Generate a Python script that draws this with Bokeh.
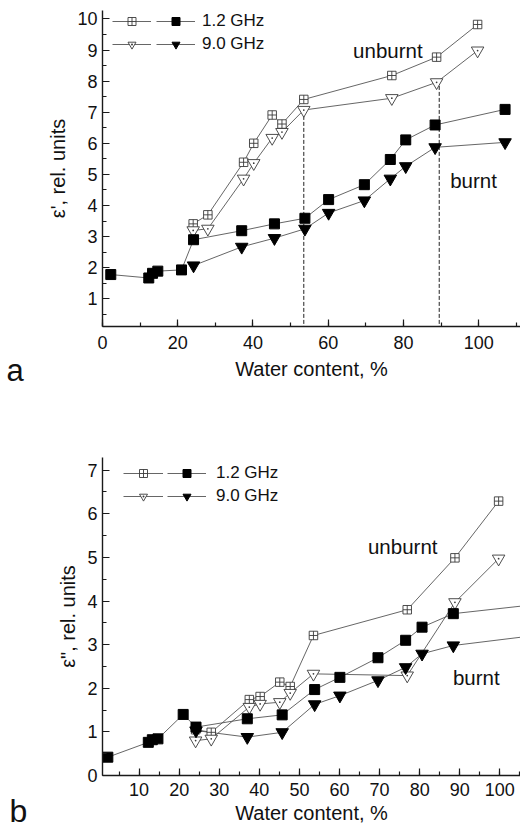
from bokeh.plotting import figure
from bokeh.layouts import column
from bokeh.models import Range1d, SingleIntervalTicker, Legend, LegendItem, Label
from bokeh.embed import file_html
from bokeh.resources import INLINE

# ---------------- data ----------------
# water content, % (burnt samples measured at 1.2 GHz; 9.0 GHz starts at 24 %)
water_burnt_12 = [2.2, 12.3, 13.3, 14.7, 21.0, 24.2, 37.0, 45.7, 53.8, 60.1, 69.6, 76.5, 80.6, 88.4, 107.0]
water_burnt_9 = [24.2, 37.0, 45.7, 53.8, 60.1, 69.6, 76.5, 80.6, 88.4, 107.0]
water_unburnt = [24.1, 28.0, 37.5, 40.2, 45.1, 47.7, 53.5, 76.9, 88.8, 99.7]

# (a) real part eps'
eps1_burnt_12 = [1.78, 1.67, 1.82, 1.89, 1.93, 2.90, 3.19, 3.41, 3.59, 4.19, 4.67, 5.48, 6.11, 6.59, 7.09]
eps1_burnt_9 = [2.07, 2.67, 2.95, 3.25, 3.76, 4.16, 4.86, 5.26, 5.87, 6.03]
eps1_unburnt_12 = [3.41, 3.70, 5.39, 6.00, 6.91, 6.62, 7.41, 8.18, 8.77, 9.82]
eps1_unburnt_9 = [3.20, 3.25, 4.86, 5.36, 6.17, 6.36, 7.07, 7.45, 7.96, 8.98]

# (b) imaginary part eps''
eps2_burnt_12 = [0.42, 0.76, 0.82, 0.84, 1.40, 1.11, 1.30, 1.39, 1.97, 2.25, 2.70, 3.10, 3.40, 3.71, 3.90]
eps2_burnt_9 = [1.03, 0.88, 0.99, 1.63, 1.83, 2.18, 2.48, 2.79, 2.98, 3.19]
eps2_unburnt_12 = [1.05, 0.99, 1.74, 1.81, 2.14, 2.04, 3.21, 3.80, 4.99, 6.29]
eps2_unburnt_9 = [0.80, 0.84, 1.57, 1.64, 1.68, 1.89, 2.33, 2.29, 3.97, 4.97]

# dashed markers in (a)
dashed_x = [53.5, 89.5]
dashed_top = [7.07, 7.96]

legend_labels = ["1.2 GHz", "9.0 GHz"]

FONT = "Liberation Sans"
LINE_C = "#555555"
OPEN_C = "#3a3a3a"
TXT_C = "#111111"


def style_axes(p, xtick, ytick, lab_stand_x, title_stand_x):
    p.grid.visible = False
    p.outline_line_color = None
    p.xaxis.ticker = SingleIntervalTicker(interval=xtick, num_minor_ticks=2)
    p.yaxis.ticker = SingleIntervalTicker(interval=ytick, num_minor_ticks=2)
    for ax in (p.xaxis[0], p.yaxis[0]):
        ax.axis_line_color = "#1a1a1a"
        ax.axis_line_width = 1.4
        ax.major_tick_in = 7
        ax.major_tick_out = 0
        ax.minor_tick_in = 4
        ax.minor_tick_out = 0
        ax.major_tick_line_color = "#1a1a1a"
        ax.minor_tick_line_color = "#1a1a1a"
        ax.major_tick_line_width = 1.2
        ax.minor_tick_line_width = 1.2
        ax.major_label_text_font = FONT
        ax.major_label_text_font_size = "18px"
        ax.major_label_text_color = TXT_C
        ax.axis_label_text_font = FONT
        ax.axis_label_text_font_size = "20px"
        ax.axis_label_text_font_style = "normal"
        ax.axis_label_text_color = TXT_C
    p.xaxis.major_label_standoff = lab_stand_x
    p.xaxis.axis_label_standoff = title_stand_x
    p.yaxis.major_label_standoff = 5
    p.yaxis.axis_label_standoff = 5


def draw_series(p, wb12, b12, wb9, b9, wu, u12, u9):
    lu12 = p.line(wu, u12, line_color=LINE_C, line_width=0.9)
    lu9 = p.line(wu, u9, line_color=LINE_C, line_width=0.9)
    lb12 = p.line(wb12, b12, line_color=LINE_C, line_width=0.9)
    lb9 = p.line(wb9, b9, line_color=LINE_C, line_width=0.9)
    su12 = p.scatter(wu, u12, marker="square_cross", size=8.5, fill_color="white",
                     line_color=OPEN_C, line_width=0.9)
    su9 = p.scatter(wu, u9, marker="inverted_triangle", size=12.5, fill_color="white",
                    line_color=OPEN_C, line_width=0.9)
    du9 = p.scatter(wu, u9, marker="dot", size=7, line_color=OPEN_C, fill_color=OPEN_C)
    sb12 = p.scatter(wb12, b12, marker="square", size=10, fill_color="black", line_color="black")
    sb9 = p.scatter(wb9, b9, marker="inverted_triangle", size=12.5, fill_color="black",
                    line_color="black")
    return (lu12, su12), (lu9, su9, du9), (lb12, sb12), (lb9, sb9)


def add_legends(p, xo, xf, y, standoff, open_r, filled_r, gw1, gw2):
    common = dict(glyph_height=20, label_height=20, spacing=3, padding=0, margin=0,
                  border_line_color=None, background_fill_alpha=0,
                  label_text_font=FONT, label_text_font_size="17px",
                  label_text_color=TXT_C)
    leg1 = Legend(items=[LegendItem(label=" ", renderers=list(r)) for r in open_r],
                  location=(xo, y), glyph_width=gw1, label_standoff=0, label_width=1, **common)
    leg2 = Legend(items=[LegendItem(label=lab, renderers=list(r))
                         for lab, r in zip(legend_labels, filled_r)],
                  location=(xf, y), glyph_width=gw2, label_standoff=standoff, **common)
    p.add_layout(leg1)
    p.add_layout(leg2)


def add_text(p, x, y, text, size):
    p.add_layout(Label(x=x, y=y, text=text, text_font=FONT, text_font_size=size,
                       text_color=TXT_C, text_baseline="alphabetic"))


def add_panel_letter(p, x, y, text, size):
    # placed in the left side panel so that it is not clipped to the frame
    p.add_layout(Label(x=x, y=y, x_units="screen", y_units="screen", text=text,
                       text_font=FONT, text_font_size=size, text_color=TXT_C,
                       text_baseline="alphabetic"), "left")


# ---------------- (a) ----------------
pa = figure(width=520, height=400, x_range=Range1d(0, 111.1), y_range=Range1d(0.11, 10.27),
            output_backend="svg", toolbar_location=None,
            min_border_left=102, min_border_right=0, min_border_top=10, min_border_bottom=74,
            x_axis_label="Water content, %", y_axis_label="ε', rel. units")
style_axes(pa, 20, 1, 9, 6)
pa.segment(x0=dashed_x, y0=[0] * len(dashed_x), x1=dashed_x, y1=dashed_top,
           line_color="#222222", line_width=1, line_dash="4 2")
ra = draw_series(pa, water_burnt_12, eps1_burnt_12, water_burnt_9, eps1_burnt_9,
                 water_unburnt, eps1_unburnt_12, eps1_unburnt_9)
add_legends(pa, 10, 54, 272, 7, ra[:2], ra[2:], 39, 39)
add_text(pa, 66.6, 9.0, "unburnt", "20.5px")
add_text(pa, 92.4, 4.8, "burnt", "20.5px")
add_panel_letter(pa, -21, -44, "a", "31px")

# ---------------- (b) ----------------
pb = figure(width=520, height=427, x_range=Range1d(0.87, 105.16), y_range=Range1d(0, 7.29),
            output_backend="svg", toolbar_location=None,
            min_border_left=102, min_border_right=0, min_border_top=57, min_border_bottom=52,
            x_axis_label="Water content, %", y_axis_label='ε", rel. units')
style_axes(pb, 10, 1, 7, 3)
rb = draw_series(pb, water_burnt_12, eps2_burnt_12, water_burnt_9, eps2_burnt_9,
                 water_unburnt, eps2_unburnt_12, eps2_unburnt_9)
add_legends(pb, 21, 65, 269, 10, rb[:2], rb[2:], 40, 39)
add_text(pb, 67.1, 5.25, "unburnt", "20.5px")
add_text(pb, 88.3, 2.25, "burnt", "20.5px")
add_panel_letter(pb, -27, -35, "b", "32px")

layout = column(pa, pb, spacing=0)
open("out.html", "w").write(file_html(layout, INLINE))
